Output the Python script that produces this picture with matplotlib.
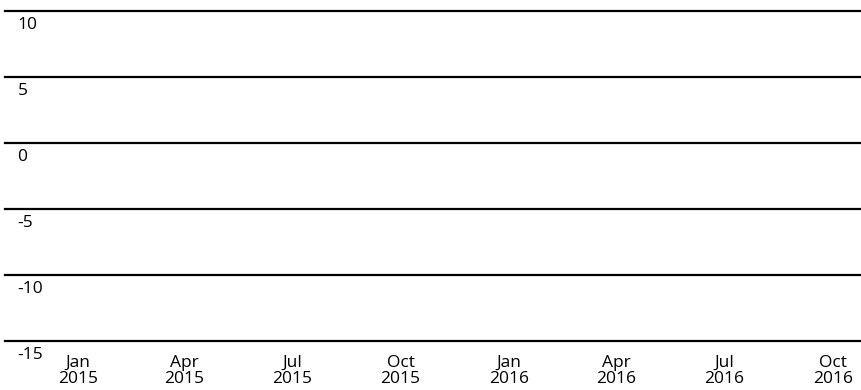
import datetime as dt
import matplotlib
matplotlib.use("Agg")
import matplotlib.pyplot as plt
import matplotlib.dates as mdates
import matplotlib.transforms as mtrans

# chart contents (empty plot: only the axes frame is shown)
y_ticks = [-15, -10, -5, 0, 5, 10]
x_tick_dates = [dt.date(2015, 1, 1), dt.date(2015, 4, 1), dt.date(2015, 7, 1),
                dt.date(2015, 10, 1), dt.date(2016, 1, 1), dt.date(2016, 4, 1),
                dt.date(2016, 7, 1), dt.date(2016, 10, 1)]
x_tick_labels = ["Jan\n2015", "Apr\n2015", "Jul\n2015", "Oct\n2015",
                 "Jan\n2016", "Apr\n2016", "Jul\n2016", "Oct\n2016"]
x_range = [dt.date(2014, 10, 31), dt.date(2016, 10, 25)]

plt.rcParams['font.family'] = ['Open Sans', 'DejaVu Sans']
plt.rcParams['axes.unicode_minus'] = False

fig = plt.figure(figsize=(8.61, 3.9), dpi=100)
ax = fig.add_axes([5 / 861, 49 / 390, 856 / 861, 330 / 390])

ax.set_xlim(mdates.date2num(x_range[0]), mdates.date2num(x_range[1]))
ax.set_ylim(min(y_ticks), max(y_ticks))

for s in ax.spines.values():
    s.set_visible(False)

# horizontal grid lines, labels sit just under each line on the left
ax.set_yticks(y_ticks)
ax.set_yticklabels([str(v) for v in y_ticks])
ax.yaxis.grid(True, color='black', linewidth=1.6)
for gl in ax.get_ygridlines():
    gl.set_clip_on(False)
ax.tick_params(axis='y', length=0, pad=-9, labelsize=12.5)
offset = mtrans.ScaledTranslation(0, -4 / 72, fig.dpi_scale_trans)
for lbl in ax.get_yticklabels():
    lbl.set_horizontalalignment('left')
    lbl.set_verticalalignment('top')
    lbl.set_transform(lbl.get_transform() + offset)

ax.set_xticks([mdates.date2num(d) for d in x_tick_dates])
ax.set_xticklabels(x_tick_labels, linespacing=1.0)
ax.tick_params(axis='x', length=0, pad=10, labelsize=12.5)

fig.savefig("out.png", dpi=100)
